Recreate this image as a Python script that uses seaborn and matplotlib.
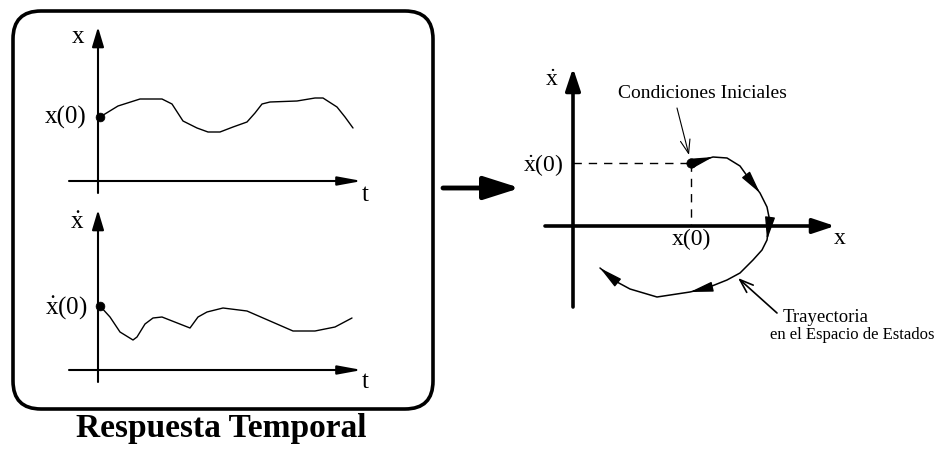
import numpy as np
import pandas as pd
import seaborn as sns
import matplotlib.pyplot as plt
from matplotlib.patches import FancyBboxPatch

# time response x(t) (top-left panel), units relative to the axes origin
t_top = [2, 20, 42, 64, 74, 85, 99, 110, 122, 135, 149, 157, 164, 172, 199, 217, 225, 239, 247, 255]
x_top = [64, 75, 82, 82, 77, 60, 53, 49, 49, 54, 59, 68, 77, 79, 80, 83, 83, 74, 64, 53]

# time response x'(t) (bottom-left panel)
t_bot = [2, 12, 22, 35, 39, 47, 55, 64, 92, 100, 109, 125, 149, 195, 217, 237, 254]
v_bot = [64, 53, 38, 30, 33, 46, 52, 53, 42, 53, 58, 62, 59, 39, 39, 43, 52]

# state-space trajectory (right panel)
x_ph = [118, 130, 140, 154, 167, 177, 187, 194, 196, 196, 194, 189, 180, 167, 154, 134, 117, 84, 57, 44, 27]
v_ph = [63, 66, 69, 68, 60, 46, 33, 19, 9, 1, -14, -24, -34, -47, -54, -62, -66, -71, -63, -56, -42]
heads = [2, 6, 10, 16, 20]   # points of the trajectory that carry an arrow head

x0, v0 = x_ph[0], v_ph[0]

sns.set_theme(style='white')
plt.rcParams['font.family'] = ['Liberation Serif', 'DejaVu Serif']
plt.rcParams['text.color'] = 'black'
plt.rcParams['mathtext.fontset'] = 'custom'
plt.rcParams['mathtext.rm'] = 'Liberation Serif'
plt.rcParams['mathtext.it'] = 'Liberation Serif:italic'

W, H = 936, 450
fig = plt.figure(figsize=(W / 100, H / 100), dpi=100)
fig.patch.set_facecolor('white')

XD = r'$\dot{\mathrm{x}}$'


def panel(px0, py0, px1, py1, ox, oy):
    # axes placed in pixel box, data units = pixels, origin at (ox, oy)
    ax = fig.add_axes([px0 / W, 1 - py1 / H, (px1 - px0) / W, (py1 - py0) / H])
    ax.set_xlim(px0 - ox, px1 - ox)
    ax.set_ylim(oy - py1, oy - py0)
    ax.axis('off')
    return ax


def axis_arrow(ax, start, end, lw, hl, hw, ms):
    ax.annotate('', xy=end, xytext=start,
                arrowprops=dict(arrowstyle=f'-|>,head_length={hl},head_width={hw}',
                                mutation_scale=ms, color='black', lw=lw,
                                shrinkA=0, shrinkB=0))


# background: rounded box, big arrow, caption
bg = fig.add_axes([0, 0, 1, 1], zorder=0)
bg.set_xlim(0, W)
bg.set_ylim(H, 0)
bg.axis('off')
bg.add_patch(FancyBboxPatch((13, 11), 420, 398, boxstyle='round,pad=0,rounding_size=28',
                            fill=False, lw=2.6, ec='black'))
axis_arrow(bg, (443, 188), (520, 188), 3.5, 1.1, 0.35, 20)
bg.text(221, 428, 'Respuesta Temporal', ha='center', va='center',
        fontsize=24, fontweight='bold')

# top-left: x(t)
ax1 = panel(20, 15, 430, 205, 98, 181)
axis_arrow(ax1, (0, -12), (0, 154), 1.5, 1.0, 0.3, 12)
axis_arrow(ax1, (-29, 0), (264, 0), 1.5, 1.2, 0.22, 12)
sns.lineplot(x=t_top, y=x_top, ax=ax1, color='black', lw=1, sort=False, estimator=None)
sns.scatterplot(x=[t_top[0]], y=[x_top[0]], ax=ax1, color='black', s=40, edgecolor='black')
ax1.text(-14, 144, 'x', ha='right', va='center', fontsize=18)
ax1.text(-11, 64, 'x(0)', ha='right', va='center', fontsize=18)
ax1.text(267, -14, 't', ha='center', va='center', fontsize=18)

# bottom-left: x'(t)
ax2 = panel(20, 200, 430, 395, 98, 370)
axis_arrow(ax2, (0, -12), (0, 160), 1.5, 1.0, 0.3, 12)
axis_arrow(ax2, (-29, 0), (264, 0), 1.5, 1.2, 0.22, 12)
sns.lineplot(x=t_bot, y=v_bot, ax=ax2, color='black', lw=1, sort=False, estimator=None)
sns.scatterplot(x=[t_bot[0]], y=[v_bot[0]], ax=ax2, color='black', s=40, edgecolor='black')
ax2.text(-14, 147, XD, ha='right', va='center', fontsize=18)
ax2.text(-10, 62, XD + '(0)', ha='right', va='center', fontsize=18)
ax2.text(267, -12, 't', ha='center', va='center', fontsize=18)

# right: state space
ax3 = panel(540, 40, 936, 345, 573, 226)
axis_arrow(ax3, (0, -81), (0, 158), 2.6, 0.9, 0.3, 15)
axis_arrow(ax3, (-28, 0), (262, 0), 2.6, 0.9, 0.3, 15)
ax3.plot([0, x0], [v0, v0], color='black', lw=1, ls=(0, (6, 5)))
ax3.plot([x0, x0], [v0, 0], color='black', lw=1, ls=(0, (6, 5)))
sns.lineplot(x=x_ph, y=v_ph, ax=ax3, color='black', lw=1.1, sort=False, estimator=None)
sns.scatterplot(x=[x0], y=[v0], ax=ax3, color='black', s=45, edgecolor='black', zorder=5)
for i in heads:
    ax3.annotate('', xy=(x_ph[i], v_ph[i]), xytext=(x_ph[i - 1], v_ph[i - 1]),
                 arrowprops=dict(arrowstyle='-|>,head_length=1.0,head_width=0.22',
                                 mutation_scale=14, color='black', lw=1,
                                 shrinkA=0, shrinkB=0))
ax3.text(-14, 146, XD, ha='right', va='center', fontsize=17)
ax3.text(-10, 61, XD + '(0)', ha='right', va='center', fontsize=17)
ax3.text(x0, -13, 'x(0)', ha='center', va='center', fontsize=17)
ax3.text(267, -12, 'x', ha='center', va='center', fontsize=17)

ax3.annotate('', xy=(116, 71), xytext=(104, 118),
             arrowprops=dict(arrowstyle='->,head_length=0.7,head_width=0.25',
                             mutation_scale=14, color='black', lw=0.8,
                             shrinkA=0, shrinkB=0))
ax3.text(129, 133, 'Condiciones Iniciales', ha='center', va='center', fontsize=14)
ax3.annotate('', xy=(165, -52), xytext=(204, -87),
             arrowprops=dict(arrowstyle='->,head_length=0.7,head_width=0.25',
                             mutation_scale=14, color='black', lw=1.2,
                             shrinkA=0, shrinkB=0))
ax3.text(210, -91, 'Trayectoria', ha='left', va='center', fontsize=13.5)
ax3.text(361, -109, 'en el Espacio de Estados', ha='right', va='center', fontsize=12)

fig.savefig('out.png', dpi=100)
